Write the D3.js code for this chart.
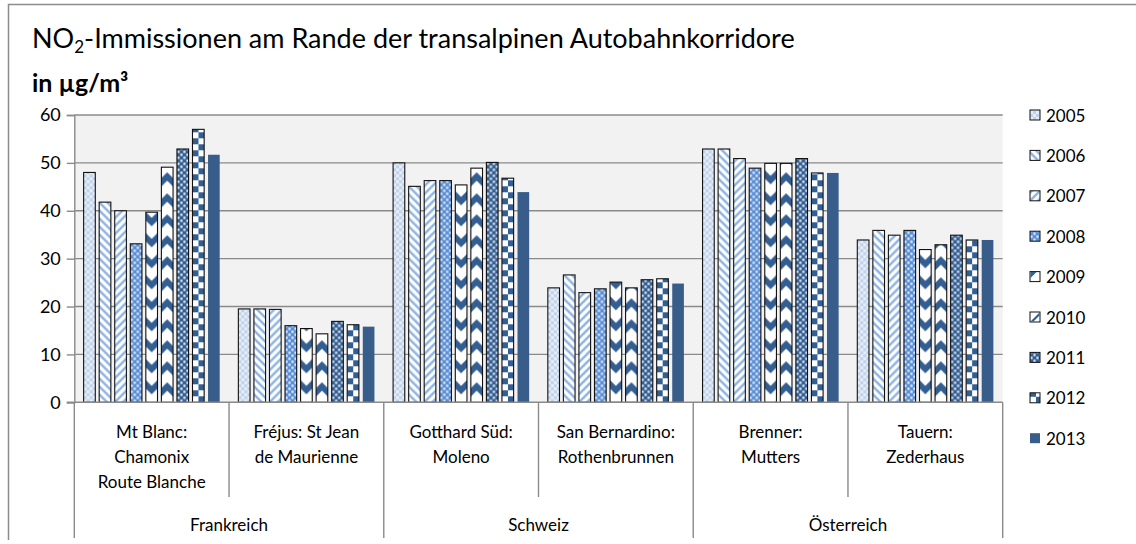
<!DOCTYPE html>
<html>
<head>
<meta charset="utf-8">
<script src="https://cdn.jsdelivr.net/npm/d3@7"></script>
<style>
  html, body { margin: 0; padding: 0; background: #fff; }
  svg { display: block; font-family: Lato, "Open Sans", sans-serif; }
</style>
</head>
<body>
<svg id="chart" width="1136" height="544"></svg>
<script>
// Measuring sites (multi-line labels) and the country each pair belongs to
const sites = [
  ["Mt Blanc:", "Chamonix", "Route Blanche"],
  ["Fréjus: St Jean", "de Maurienne"],
  ["Gotthard Süd:", "Moleno"],
  ["San Bernardino:", "Rothenbrunnen"],
  ["Brenner:", "Mutters"],
  ["Tauern:", "Zederhaus"]
];
const countries = ["Frankreich", "Schweiz", "Österreich"];
const sitesPerCountry = 2;

const years = ["2005", "2006", "2007", "2008", "2009", "2010", "2011", "2012", "2013"];

// Annual mean NO2 in µg/m³, one value per site
const v2005 = [48.0, 19.5, 50.0, 23.9, 52.9, 33.9];
const v2006 = [41.8, 19.5, 45.1, 26.6, 52.9, 35.9];
const v2007 = [40.0, 19.4, 46.3, 22.9, 50.9, 34.9];
const v2008 = [33.1, 16.0, 46.3, 23.7, 48.9, 35.9];
const v2009 = [39.7, 15.4, 45.4, 25.1, 49.9, 31.9];
const v2010 = [49.1, 14.3, 48.9, 23.9, 49.9, 32.9];
const v2011 = [52.9, 16.9, 50.1, 25.6, 50.9, 34.9];
const v2012 = [57.0, 16.2, 46.8, 25.8, 47.9, 33.9];
const v2013 = [51.7, 15.8, 43.9, 24.8, 47.9, 33.9];
const seriesValues = [v2005, v2006, v2007, v2008, v2009, v2010, v2011, v2012, v2013];

const yTicks = [0, 10, 20, 30, 40, 50, 60];

const svg = d3.select("#chart");
const defs = svg.append("defs");

const plot = { left: 74.3, right: 1002.7, top: 115, bottom: 402.3 };
const x0 = d3.scaleBand().domain(d3.range(sites.length)).range([plot.left, plot.right]).padding(0);
const x1 = d3.scaleBand().domain(years).range([0, x0.bandwidth()]).paddingInner(0.25).paddingOuter(0.6);
const y = d3.scaleLinear().domain([0, 60]).range([plot.bottom, plot.top]);

const LIGHT = "#c0d3eb", MIDLIGHT = "#8db3e2", MID = "#5a8ed5", DARK = "#335e92", SOLID = "#385d8a";

// Fill patterns, one per mark, anchored at the mark's left/bottom corner
function makePattern(id, kind, ox, oy, bw) {
  const p = defs.append("pattern").attr("id", id).attr("patternUnits", "userSpaceOnUse").attr("x", ox).attr("y", oy);
  const tile = (w, h, bg) => { p.attr("width", w).attr("height", h); p.append("rect").attr("width", w).attr("height", h).attr("fill", bg); };
  const checker = (c, color, inset) => {
    p.append("rect").attr("x", inset).attr("y", inset).attr("width", c - 2 * inset).attr("height", c - 2 * inset).attr("fill", color);
    p.append("rect").attr("x", c + inset).attr("y", c + inset).attr("width", c - 2 * inset).attr("height", c - 2 * inset).attr("fill", color);
  };
  const chevron = (up) => {
    const h = 21, d = bw / 2;
    let path = "";
    for (const base of [-h, 0, h]) {
      const a = base + (up ? 11 : 3);
      path += up
        ? `M-3,${a + 3}L${d},${a - d}L${bw + 3},${a + 3}`
        : `M-3,${a - 3}L${d},${a + d}L${bw + 3},${a - 3}`;
    }
    tile(bw, h, "#fff");
    p.append("path").attr("d", path).attr("fill", "none").attr("stroke", DARK).attr("stroke-width", 6);
  };
  switch (kind) {
    case 0: tile(6, 6, "#e6edf7"); checker(3, LIGHT, 0); break;
    case 1: tile(8, 8, "#fff");
      p.append("path").attr("d", "M0,0L8,8M-4,4L4,12M4,-4L12,4").attr("stroke", MIDLIGHT).attr("stroke-width", 2.4); break;
    case 2: tile(8, 8, "#fff");
      p.append("path").attr("d", "M0,8L8,0M-4,4L4,-4M4,12L12,4").attr("stroke", MIDLIGHT).attr("stroke-width", 2.4); break;
    case 3: tile(6, 6, MID); checker(3, "#eef3fb", 0.4); break;
    case 4: chevron(false); break;
    case 5: chevron(true); break;
    case 6: tile(6, 6, DARK); checker(3, "#f2f5fa", 0.4); break;
    case 7: tile(12, 12, "#fff"); checker(6, DARK, 0); break;
    default: tile(4, 4, SOLID);
  }
  return `url(#${id})`;
}

// Outer frame
svg.append("path").attr("d", "M8.5,540V4.5H1136").attr("fill", "none").attr("stroke", "#8c8c8c").attr("stroke-width", 1.5);

// Title
const title = svg.append("text").attr("x", 32).attr("y", 47.5).attr("font-size", 27).attr("fill", "#000");
title.append("tspan").text("NO");
title.append("tspan").attr("font-size", 17).attr("dy", 5).text("2");
title.append("tspan").attr("dy", -5).text("-Immissionen am Rande der transalpinen Autobahnkorridore");
svg.append("text").attr("x", 32).attr("y", 92).attr("font-size", 25).attr("font-weight", "bold").text("in µg/m³");

// Plot background and gridlines
svg.append("rect").attr("x", plot.left).attr("y", plot.top).attr("width", plot.right - plot.left).attr("height", plot.bottom - plot.top).attr("fill", "#f2f2f2");
svg.append("g").selectAll("line").data(yTicks.filter(d => d > 0)).join("line")
  .attr("x1", plot.left).attr("x2", plot.right).attr("y1", d => y(d)).attr("y2", d => y(d))
  .attr("stroke", "#8a8a8a").attr("stroke-width", 1.4);

// Y axis
const yAxis = svg.append("g").attr("transform", `translate(${plot.left},0)`)
  .call(d3.axisLeft(y).tickValues(yTicks).tickSize(7.5).tickPadding(6));
yAxis.select(".domain").attr("stroke", "#8a8a8a").attr("stroke-width", 1.4);
yAxis.selectAll(".tick line").attr("stroke", "#8a8a8a").attr("stroke-width", 1.4);
yAxis.selectAll(".tick text").attr("font-size", 18).attr("font-family", "Lato, sans-serif").attr("fill", "#000");

// Bars
const barData = [];
sites.forEach((s, si) => years.forEach((yr, k) => barData.push({ si, k, year: yr, value: seriesValues[k][si] })));
const bw = x1.bandwidth();
svg.append("g").selectAll("rect").data(barData).join("rect")
  .attr("x", d => x0(d.si) + x1(d.year))
  .attr("y", d => y(d.value))
  .attr("width", bw)
  .attr("height", d => y(0) - y(d.value))
  .attr("fill", d => makePattern(`bar-${d.si}-${d.k}`, d.k, x0(d.si) + x1(d.year), y(0), bw))
  .attr("stroke", d => d.k === 8 ? "none" : "#111")
  .attr("stroke-width", 1.1);

// Category axis (two levels)
const axisG = svg.append("g").attr("stroke", "#8a8a8a").attr("stroke-width", 1.4);
axisG.append("line").attr("x1", plot.left - 7.5).attr("x2", plot.right).attr("y1", y(0)).attr("y2", y(0));
const bounds = d3.range(sites.length + 1).map(i => i < sites.length ? x0(i) : plot.right);
axisG.selectAll("line.sep").data(bounds).join("line").attr("class", "sep")
  .attr("x1", d => d).attr("x2", d => d)
  .attr("y1", y(0))
  .attr("y2", (d, i) => i % sitesPerCountry === 0 ? 538 : 497);

const labelG = svg.append("g").attr("font-size", 17).attr("text-anchor", "middle").attr("fill", "#000");
sites.forEach((lines, i) => {
  const t = labelG.append("text").attr("x", x0(i) + x0.bandwidth() / 2);
  lines.forEach((ln, j) => t.append("tspan").attr("x", x0(i) + x0.bandwidth() / 2).attr("y", 437.5 + j * 25).text(ln));
});
countries.forEach((c, i) => {
  const a = x0(i * sitesPerCountry), b = (i + 1) * sitesPerCountry < sites.length ? x0((i + 1) * sitesPerCountry) : plot.right;
  labelG.append("text").attr("x", (a + b) / 2).attr("y", 530.5).text(c);
});

// Legend
const legend = svg.append("g");
years.forEach((yr, k) => {
  const cy = 115 + k * 40.4;
  const sx = 1030, sy = cy - 5;
  let fill;
  if (k === 4 || k === 5) {
    // small swatches show a single corner of the chevron band
    fill = "#fff";
  } else {
    fill = makePattern(`leg-${k}`, k, sx, sy + 10, 10);
  }
  legend.append("rect").attr("x", sx).attr("y", sy).attr("width", 10).attr("height", 10)
    .attr("fill", fill).attr("stroke", k === 8 ? "none" : "#111").attr("stroke-width", 1);
  if (k === 4) {
    legend.append("path").attr("d", `M${sx + 0.5},${sy + 0.5}h6l-6,6z`).attr("fill", DARK);
  } else if (k === 5) {
    legend.append("path").attr("d", `M${sx + 0.5},${sy + 9.5}l9,-9v3l-6,6z`).attr("fill", DARK);
  }
  legend.append("text").attr("x", 1046).attr("y", cy + 6.5).attr("font-size", 17).text(yr);
});
</script>
</body>
</html>
